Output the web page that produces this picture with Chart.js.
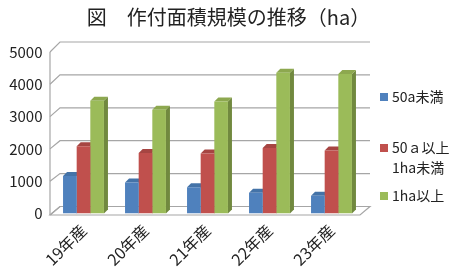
<!DOCTYPE html>
<html>
<head>
<meta charset="utf-8">
<script src="https://cdn.jsdelivr.net/npm/chart.js@4.4.1/dist/chart.umd.min.js"></script>
<style>
  html, body { margin: 0; padding: 0; background: #fff; }
  #wrap { width: 457px; height: 277px; }
</style>
</head>
<body>
<div id="wrap"><canvas id="myChart" width="457" height="277"></canvas></div>
<script>
// 年産ごとの作付面積 (ha)
const years = ['19年産', '20年産', '21年産', '22年産', '23年産'];
const under50a = [1160, 960, 810, 640, 550];
const from50aTo1ha = [2080, 1870, 1860, 2030, 1950];
const over1ha = [3490, 3210, 3470, 4360, 4320];
const yTicks = [0, 1000, 2000, 3000, 4000, 5000];

const seriesNames = [['50a未満'], ['50ａ以上', '1ha未満'], ['1ha以上']];
const frontColors = ['#4F81BD', '#C0504D', '#9BBB59'];
const sideColors = ['#385D8A', '#8C3A37', '#71893F'];
const topColors = ['#4473A8', '#A64542', '#8DA84F'];

const FONT = '"Noto Sans CJK JP", "Noto Sans", sans-serif';
const DEPTH = 4;     // 棒の奥行き
const WALL = 10;     // 壁の奥行き

// 奥の壁・床・棒の側面と上面を描く
const threeD = {
  id: 'threeD',
  beforeDatasetsDraw(chart) {
    const { ctx, chartArea: a, scales: { y } } = chart;
    const fl = a.left - 2.5;
    const fr = a.right - 2.5;
    const max = y.max;
    const backY = v => y.getPixelForValue(v) - (7 + 3 * v / max);

    ctx.save();
    // 床
    const f0 = y.getPixelForValue(0) + 1.5;
    ctx.beginPath();
    ctx.moveTo(fl, f0);
    ctx.lineTo(fr, f0);
    ctx.lineTo(fr + WALL, backY(0));
    ctx.lineTo(fl + WALL, backY(0));
    ctx.closePath();
    ctx.fillStyle = '#fff';
    ctx.fill();
    ctx.strokeStyle = '#A6A6A6';
    ctx.lineWidth = 1.2;
    ctx.stroke();

    // 目盛線 (奥の壁) と左の壁
    yTicks.forEach(v => {
      const fy = y.getPixelForValue(v);
      const by = backY(v);
      ctx.beginPath();
      ctx.moveTo(fl, v === 0 ? f0 : fy);
      ctx.lineTo(fl + WALL, by);
      ctx.lineTo(fr + WALL, by);
      ctx.stroke();
    });
    ctx.beginPath();
    ctx.moveTo(fl, y.getPixelForValue(max));
    ctx.lineTo(fl, f0);
    ctx.stroke();

    // 棒の側面と上面
    chart.data.datasets.forEach((ds, i) => {
      const meta = chart.getDatasetMeta(i);
      meta.data.forEach(bar => {
        const { x, y: top, base, width } = bar.getProps(['x', 'y', 'base', 'width'], true);
        const L = x - width / 2, R = x + width / 2;
        ctx.fillStyle = sideColors[i];
        ctx.beginPath();
        ctx.moveTo(R, top);
        ctx.lineTo(R + DEPTH, top - DEPTH);
        ctx.lineTo(R + DEPTH, base - DEPTH);
        ctx.lineTo(R, base);
        ctx.closePath();
        ctx.fill();
        ctx.fillStyle = topColors[i];
        ctx.beginPath();
        ctx.moveTo(L, top);
        ctx.lineTo(R, top);
        ctx.lineTo(R + DEPTH, top - DEPTH);
        ctx.lineTo(L + DEPTH, top - DEPTH);
        ctx.closePath();
        ctx.fill();
      });
    });
    ctx.restore();
  },
  afterDraw(chart) {
    // 凡例
    const { ctx } = chart;
    const rows = [97, 148, 196];
    ctx.save();
    ctx.font = '14px ' + FONT;
    ctx.textBaseline = 'middle';
    ctx.textAlign = 'left';
    seriesNames.forEach((lines, i) => {
      ctx.fillStyle = frontColors[i];
      ctx.fillRect(380, rows[i] - 4, 8, 8);
      ctx.fillStyle = '#222';
      lines.forEach((t, k) => ctx.fillText(t, 392, rows[i] + k * 20));
    });
    ctx.restore();
  }
};

const ctx = document.getElementById('myChart').getContext('2d');

const data = {
  labels: years,
  datasets: [under50a, from50aTo1ha, over1ha].map((vals, i) => ({
    label: seriesNames[i].join(''),
    data: vals,
    backgroundColor: frontColors[i],
    borderWidth: 0,
    categoryPercentage: 0.66,
    barPercentage: 1
  }))
};

const myChart = new Chart(ctx, {
  type: 'bar',
  data: data,
  options: {
    responsive: false,
    devicePixelRatio: 1,
    animation: false,
    layout: { padding: 0 },
    plugins: {
      legend: { display: false },
      tooltip: { enabled: false },
      title: {
        display: true,
        text: '図　作付面積規模の推移（ha）',
        color: '#222',
        font: { family: FONT, size: 20, weight: 'normal', lineHeight: 1.2 },
        padding: { top: 5, bottom: 23 }
      }
    },
    scales: {
      x: {
        grid: { display: false, drawTicks: false },
        border: { display: false },
        ticks: {
          color: '#222',
          font: { family: FONT, size: 16 },
          minRotation: 45,
          maxRotation: 45,
          padding: 7
        },
        afterFit(scale) { scale.height = 63.5; }
      },
      y: {
        min: 0,
        max: 5000,
        grid: { display: false, drawTicks: false },
        border: { display: false },
        afterBuildTicks(scale) { scale.ticks = yTicks.map(v => ({ value: v })); },
        ticks: {
          color: '#222',
          font: { family: FONT, size: 15 },
          padding: 10,
          callback: v => String(v)
        },
        afterFit(scale) { scale.width = 52.5; }
      },
      // 凡例の場所を空けるための右側の見えない軸
      legendSpace: {
        position: 'right',
        grid: { display: false, drawTicks: false },
        border: { display: false },
        ticks: { display: false },
        afterFit(scale) { scale.width = 94.5; }
      }
    }
  },
  plugins: [threeD]
});
</script>
</body>
</html>
